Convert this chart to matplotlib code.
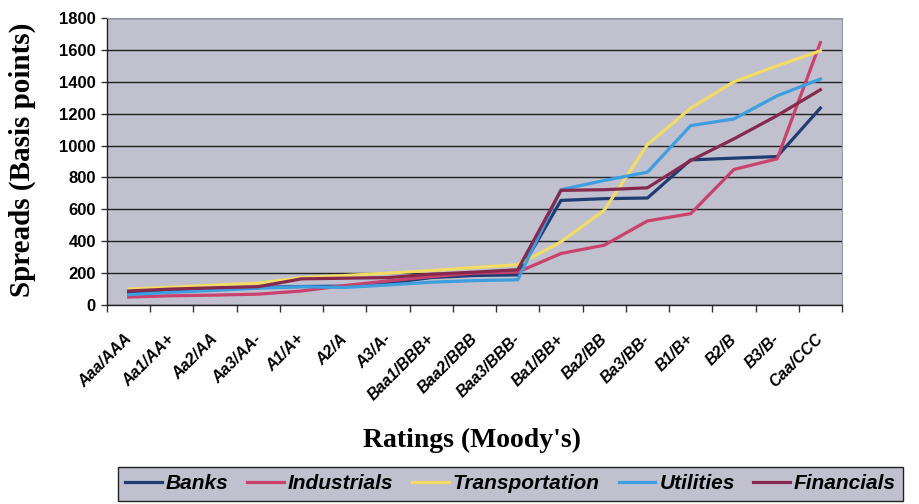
import matplotlib
matplotlib.use("Agg")
import matplotlib.pyplot as plt
from matplotlib.ticker import FixedLocator, NullFormatter
import matplotlib.transforms as mtransforms

# ---------------------------------------------------------------------------
# Данные
# ---------------------------------------------------------------------------

ratings = [
    "Aaa/AAA", "Aa1/AA+", "Aa2/AA", "Aa3/AA-", "A1/A+", "A2/A", "A3/A-",
    "Baa1/BBB+", "Baa2/BBB", "Baa3/BBB-", "Ba1/BB+", "Ba2/BB", "Ba3/BB-",
    "B1/B+", "B2/B", "B3/B-", "Caa/CCC",
]

banks = [78, 90, 100, 110, 116, 118, 137, 172, 185, 189, 656, 667, 671, 910, 921, 931, 1235]
industrials = [50, 58, 62, 68, 88, 122, 151, 178, 200, 206, 323, 375, 527, 573, 850, 917, 1646]
transportation = [100, 112, 125, 137, 172, 185, 200, 216, 235, 252, 396, 594, 1006, 1235, 1400, 1500, 1594]
utilities = [65, 80, 92, 105, 115, 110, 126, 143, 153, 158, 723, 781, 833, 1125, 1167, 1312, 1417]
financials = [88, 100, 108, 115, 164, 168, 172, 193, 206, 221, 719, 723, 735, 906, 1042, 1188, 1350]

series = [
    ("Banks", banks, "#1f3d72"),
    ("Industrials", industrials, "#c9416d"),
    ("Transportation", transportation, "#f2dc66"),
    ("Utilities", utilities, "#3d9fe0"),
    ("Financials", financials, "#86294f"),
]

BG = "#c0c0ce"
SANS = ["Liberation Sans", "DejaVu Sans"]
SERIF = ["Liberation Serif", "DejaVu Serif"]

# ---------------------------------------------------------------------------
# График
# ---------------------------------------------------------------------------

fig = plt.figure(figsize=(9.19, 5.04), dpi=100)
ax = fig.add_axes([107 / 919, 1 - 305 / 504, 735 / 919, 287 / 504])
ax.set_facecolor(BG)

x = [i + 0.5 for i in range(len(ratings))]
for name, vals, color in series:
    ax.plot(x, vals, color=color, linewidth=2.3, label=name, solid_joinstyle="round")

ax.set_xlim(0, len(ratings))
ax.set_ylim(0, 1800)
ax.set_yticks(range(0, 1801, 200))
ax.yaxis.grid(True, color="#222222", linewidth=1.0)
ax.set_axisbelow(True)

# границы категорий — большие деления, подписи — малые
ax.xaxis.set_major_locator(FixedLocator(range(len(ratings) + 1)))
ax.xaxis.set_major_formatter(NullFormatter())
ax.xaxis.set_minor_locator(FixedLocator(x))
ax.set_xticklabels(ratings, minor=True)
ax.tick_params(axis="x", which="major", direction="out", length=5, width=1, color="#333333")
ax.tick_params(axis="x", which="minor", length=0, pad=19)
ax.tick_params(axis="y", direction="out", length=4, width=1, color="#333333", pad=4)

offset = mtransforms.ScaledTranslation(-5 / 100, 0, fig.dpi_scale_trans)
for lab in ax.get_xticklabels(minor=True):
    lab.set_rotation(45)
    lab.set_ha("right")
    lab.set_va("top")
    lab.set_rotation_mode("anchor")
    lab.set_family(SANS)
    lab.set_fontweight("bold")
    lab.set_fontstyle("italic")
    lab.set_fontsize(11.5)
    lab.set_transform(lab.get_transform() + offset)

for lab in ax.get_yticklabels():
    lab.set_family(SANS)
    lab.set_fontweight("bold")
    lab.set_fontsize(12)

for side in ["left", "bottom"]:
    ax.spines[side].set_color("#222222")
    ax.spines[side].set_linewidth(1.0)
for side in ["top", "right"]:
    ax.spines[side].set_color("#9a9aa6")
    ax.spines[side].set_linewidth(0.8)

fig.text(22 / 919, 1 - 160 / 504, "Spreads (Basis points)", rotation=90,
         ha="center", va="center", family=SERIF, fontweight="bold", fontsize=21)
fig.text(472 / 919, 1 - 440 / 504, "Ratings (Moody's)",
         ha="center", va="center", family=SERIF, fontweight="bold", fontsize=20)

leg = fig.legend(
    loc="upper left",
    bbox_to_anchor=(118 / 919, 1 - 467 / 504),
    ncol=5,
    frameon=True,
    fancybox=False,
    handlelength=1.75,
    handletextpad=0.2,
    columnspacing=0.9,
    borderpad=0.35,
    borderaxespad=0,
    prop={"family": SANS, "weight": "bold", "style": "italic", "size": 15},
)
leg.get_frame().set_facecolor(BG)
leg.get_frame().set_edgecolor("#222222")
leg.get_frame().set_linewidth(1.0)
leg.get_frame().set_alpha(1)

fig.savefig("out.png", dpi=100)
